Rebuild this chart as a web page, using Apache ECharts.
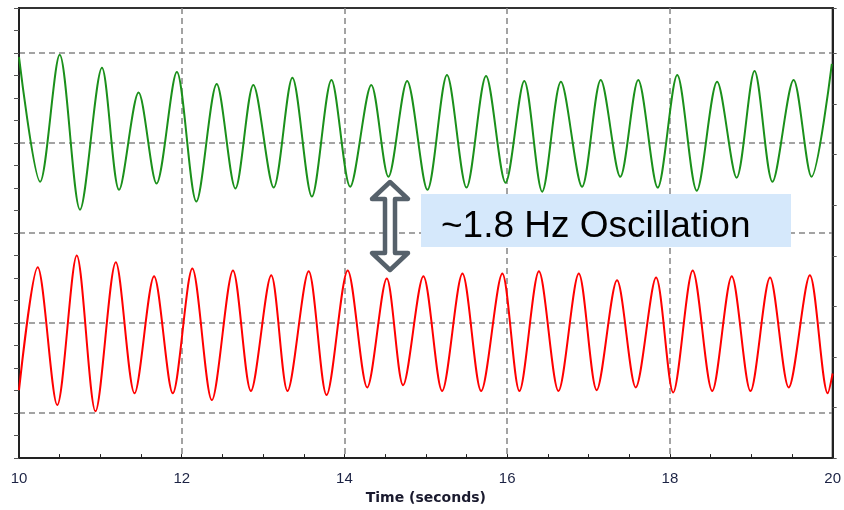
<!doctype html>
<html>
    <head>
        <meta charset="utf-8">
        <title>Oscillation</title>
        <style>
            html, body { margin: 0; padding: 0; background: #fff; }
            #main { width: 844px; height: 510px; }
        </style>
    </head>
    <body>
        <div id="main"></div>
        <script src="https://cdn.jsdelivr.net/npm/echarts@6/dist/echarts.min.js"></script>
        <script>
            // peaks and troughs: [time (s), value]
            var greenPoints = [
                [10.00, 89.1], [10.26, 61.4], [10.50, 89.6], [10.75, 55.2], [11.02, 86.7],
                [11.23, 59.6], [11.47, 81.2], [11.69, 61.0], [11.94, 85.8], [12.18, 57.0],
                [12.43, 83.1], [12.66, 59.9], [12.88, 82.9], [13.13, 60.1], [13.36, 84.5],
                [13.60, 58.1], [13.84, 84.0], [14.07, 60.3], [14.33, 82.9], [14.54, 62.5],
                [14.77, 83.8], [15.02, 59.6], [15.26, 85.1], [15.50, 60.1], [15.74, 84.9],
                [15.98, 61.2], [16.21, 83.8], [16.43, 59.2], [16.66, 83.6], [16.92, 60.3],
                [17.15, 84.0], [17.39, 62.5], [17.61, 84.0], [17.85, 60.1], [18.09, 85.1],
                [18.33, 59.4], [18.58, 83.6], [18.82, 62.3], [19.04, 86.0], [19.26, 61.4],
                [19.52, 84.0], [19.74, 62.5], [19.99, 87.6]
            ];
            var redPoints = [
                [10.00, 15.1], [10.23, 42.4], [10.47, 11.8], [10.71, 45.0], [10.94, 10.4],
                [11.19, 43.5], [11.42, 14.4], [11.66, 40.4], [11.89, 14.4], [12.13, 42.1],
                [12.37, 12.9], [12.63, 41.7], [12.85, 14.9], [13.10, 40.6], [13.30, 14.9],
                [13.56, 41.5], [13.78, 14.0], [14.04, 41.7], [14.28, 15.7], [14.52, 39.9],
                [14.72, 16.2], [14.97, 40.4], [15.20, 14.9], [15.45, 41.0], [15.68, 14.9],
                [15.94, 41.0], [16.15, 14.9], [16.39, 41.5], [16.63, 14.9], [16.88, 41.0],
                [17.10, 15.1], [17.35, 39.5], [17.58, 15.7], [17.83, 40.1], [18.04, 14.6],
                [18.28, 41.7], [18.52, 14.9], [18.76, 40.4], [18.99, 14.9], [19.23, 40.1],
                [19.46, 15.7], [19.72, 40.6], [19.94, 14.4], [20.00, 18.8]
            ];
            var xLabels = [10, 12, 14, 16, 18, 20];
            var noteText = '~1.8 Hz Oscillation';
            var xName = 'Time (seconds)';

            var clear = 'rgba(0,0,0,0)';
            var gridGray = '#858585';

            var chart = echarts.init(document.getElementById('main'));

            chart.setOption({
                animation: false,
                grid: {
                    left: 19,
                    right: 10,
                    top: 8,
                    bottom: 51,
                    show: true,
                    borderColor: '#333',
                    borderWidth: 2
                },
                xAxis: {
                    type: 'value',
                    min: 10,
                    max: 20,
                    interval: 0.5,
                    name: xName,
                    nameLocation: 'middle',
                    nameGap: 32,
                    nameTextStyle: {
                        fontFamily: 'DejaVu Sans',
                        fontWeight: 'bold',
                        fontSize: 14,
                        color: '#1a1a2e'
                    },
                    axisLine: { lineStyle: { color: '#222', width: 2 } },
                    axisTick: { inside: true, length: 4, lineStyle: { color: '#222' } },
                    axisLabel: {
                        margin: 13,
                        fontFamily: 'Liberation Sans',
                        fontSize: 15,
                        color: '#1c2344',
                        formatter: function (v) {
                            return xLabels.indexOf(v) >= 0 ? String(v) : '';
                        }
                    },
                    splitLine: {
                        show: true,
                        lineStyle: {
                            color: [gridGray, clear, clear, clear],
                            type: [6, 4],
                            width: 1.5
                        }
                    }
                },
                yAxis: [{
                    type: 'value',
                    min: 0,
                    max: 100,
                    interval: 5,
                    axisLine: { show: true, lineStyle: { color: '#222', width: 2 } },
                    axisTick: { show: true, length: 5, lineStyle: { color: '#555' } },
                    axisLabel: { show: false },
                    splitLine: {
                        show: true,
                        lineStyle: {
                            color: [clear, clear, gridGray, clear],
                            type: [6, 4],
                            width: 1.5
                        }
                    }
                }, {
                    type: 'value',
                    position: 'right',
                    min: 0,
                    max: 8.9,
                    interval: 1,
                    axisLine: { show: true, lineStyle: { color: '#222', width: 2 } },
                    axisTick: { show: true, length: 4, lineStyle: { color: '#555' } },
                    axisLabel: { show: false },
                    splitLine: { show: false }
                }],
                series: [{
                    type: 'line',
                    data: greenPoints,
                    smooth: 0.3,
                    showSymbol: false,
                    lineStyle: { color: '#1b901b', width: 2 },
                    z: 3
                }, {
                    type: 'line',
                    data: redPoints,
                    smooth: 0.3,
                    showSymbol: false,
                    lineStyle: { color: '#ff0000', width: 2 },
                    z: 3
                }],
                graphic: [{
                    type: 'polygon',
                    z: 100,
                    shape: {
                        points: [
                            [390, 182], [408, 199], [395, 199], [395, 253], [408, 253],
                            [390, 270], [372, 253], [385, 253], [385, 199], [372, 199]
                        ]
                    },
                    style: {
                        fill: '#fff',
                        stroke: '#56616b',
                        lineWidth: 4.5,
                        lineJoin: 'round'
                    }
                }, {
                    type: 'rect',
                    z: 100,
                    shape: { x: 421, y: 194, width: 370, height: 53 },
                    style: { fill: '#d5e8fb' }
                }, {
                    type: 'text',
                    z: 101,
                    x: 441,
                    y: 227,
                    style: {
                        text: noteText,
                        fill: '#000',
                        font: '37px "Liberation Sans"',
                        verticalAlign: 'middle'
                    }
                }]
            });

            window.onresize = chart.resize;
        </script>
    </body>
</html>
